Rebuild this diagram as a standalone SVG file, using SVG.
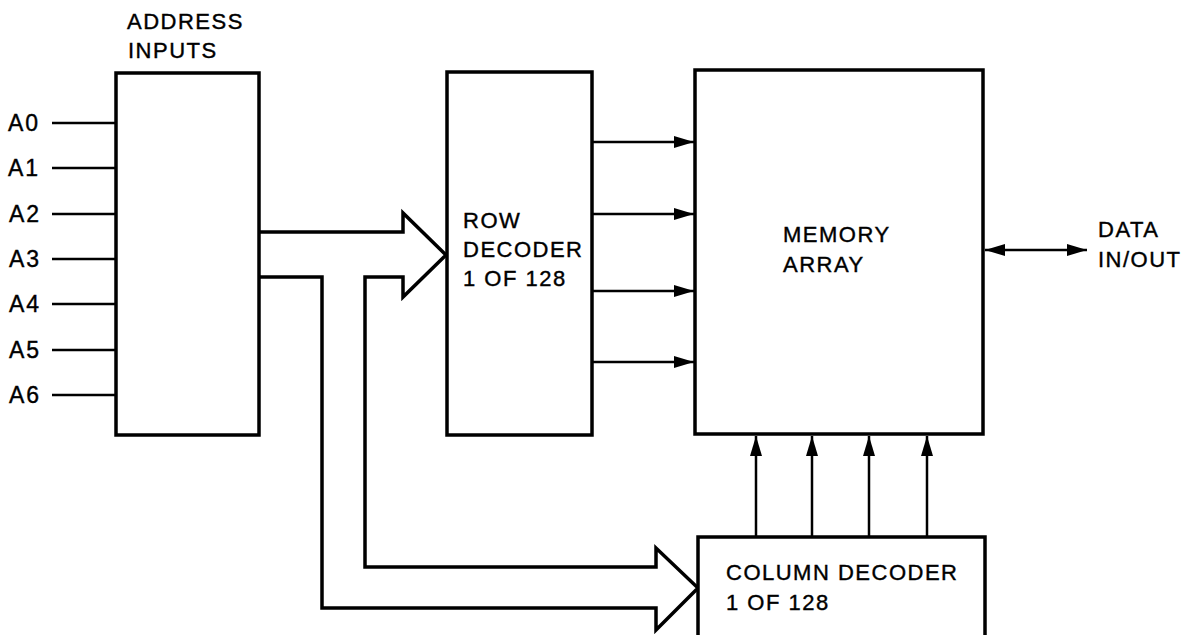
<svg xmlns="http://www.w3.org/2000/svg" width="1191" height="635" viewBox="0 0 1191 635">
<defs>
<style>
.box{fill:#fff;stroke:#000;stroke-width:3.5}
.ln{fill:none;stroke:#000;stroke-width:2.5}
.big{fill:none;stroke:#000;stroke-width:3.5;stroke-linejoin:miter}
text{font-family:"Liberation Sans",Arial,sans-serif;font-size:22px;letter-spacing:1.5px;fill:#000;stroke:#000;stroke-width:0.4}
.al{font-size:23px;letter-spacing:2px}
</style>
<marker id="ah" viewBox="0 0 20 12" refX="20" refY="6" markerWidth="20" markerHeight="12" markerUnits="userSpaceOnUse" orient="auto-start-reverse">
<path d="M0,0 L20,6 L0,12 Z" fill="#000"/>
</marker>
</defs>
<rect width="1191" height="635" fill="#fff"/>
<g id="connectors">
<line class="ln" x1="52" y1="123" x2="116" y2="123"/>
<line class="ln" x1="52" y1="168" x2="116" y2="168"/>
<line class="ln" x1="52" y1="214" x2="116" y2="214"/>
<line class="ln" x1="52" y1="259" x2="116" y2="259"/>
<line class="ln" x1="52" y1="304" x2="116" y2="304"/>
<line class="ln" x1="52" y1="350" x2="116" y2="350"/>
<line class="ln" x1="52" y1="395" x2="116" y2="395"/>
<path class="big" d="M259,232 H403 V213 L446,255 L403,297 V277 H365 V567 H656 V548 L698,588 L656,630 V608 H322 V277 H259"/>
<line class="ln" x1="592" y1="142" x2="694" y2="142" marker-end="url(#ah)"/>
<line class="ln" x1="592" y1="214" x2="694" y2="214" marker-end="url(#ah)"/>
<line class="ln" x1="592" y1="291" x2="694" y2="291" marker-end="url(#ah)"/>
<line class="ln" x1="592" y1="362" x2="694" y2="362" marker-end="url(#ah)"/>
<line class="ln" x1="756" y1="537" x2="756" y2="436" marker-end="url(#ah)"/>
<line class="ln" x1="812" y1="537" x2="812" y2="436" marker-end="url(#ah)"/>
<line class="ln" x1="869" y1="537" x2="869" y2="436" marker-end="url(#ah)"/>
<line class="ln" x1="927" y1="537" x2="927" y2="436" marker-end="url(#ah)"/>
<line class="ln" x1="985" y1="250" x2="1087" y2="250" marker-start="url(#ah)" marker-end="url(#ah)"/>
</g>
<g id="address-inputs">
<rect class="box" x="116" y="73" width="143" height="362"/>
<text x="127" y="29">ADDRESS</text>
<text x="128" y="58">INPUTS</text>
<text class="al" x="8" y="131">A0</text>
<text class="al" x="8" y="176">A1</text>
<text class="al" x="9" y="222">A2</text>
<text class="al" x="9" y="267">A3</text>
<text class="al" x="9" y="312">A4</text>
<text class="al" x="9" y="358">A5</text>
<text class="al" x="9" y="403">A6</text>
</g>
<g id="row-decoder">
<rect class="box" x="447" y="72" width="145" height="363"/>
<text x="463" y="228">ROW</text>
<text x="463" y="257">DECODER</text>
<text x="463" y="286">1 OF 128</text>
</g>
<g id="memory-array">
<rect class="box" x="695" y="70" width="288" height="364"/>
<text x="783" y="242">MEMORY</text>
<text x="783" y="272">ARRAY</text>
</g>
<g id="column-decoder">
<rect class="box" x="698" y="537" width="287" height="110"/>
<text x="726" y="580">COLUMN DECODER</text>
<text x="726" y="610">1 OF 128</text>
</g>
<g id="data-io">
<text x="1098" y="237">DATA</text>
<text x="1098" y="267">IN/OUT</text>
</g>
</svg>
